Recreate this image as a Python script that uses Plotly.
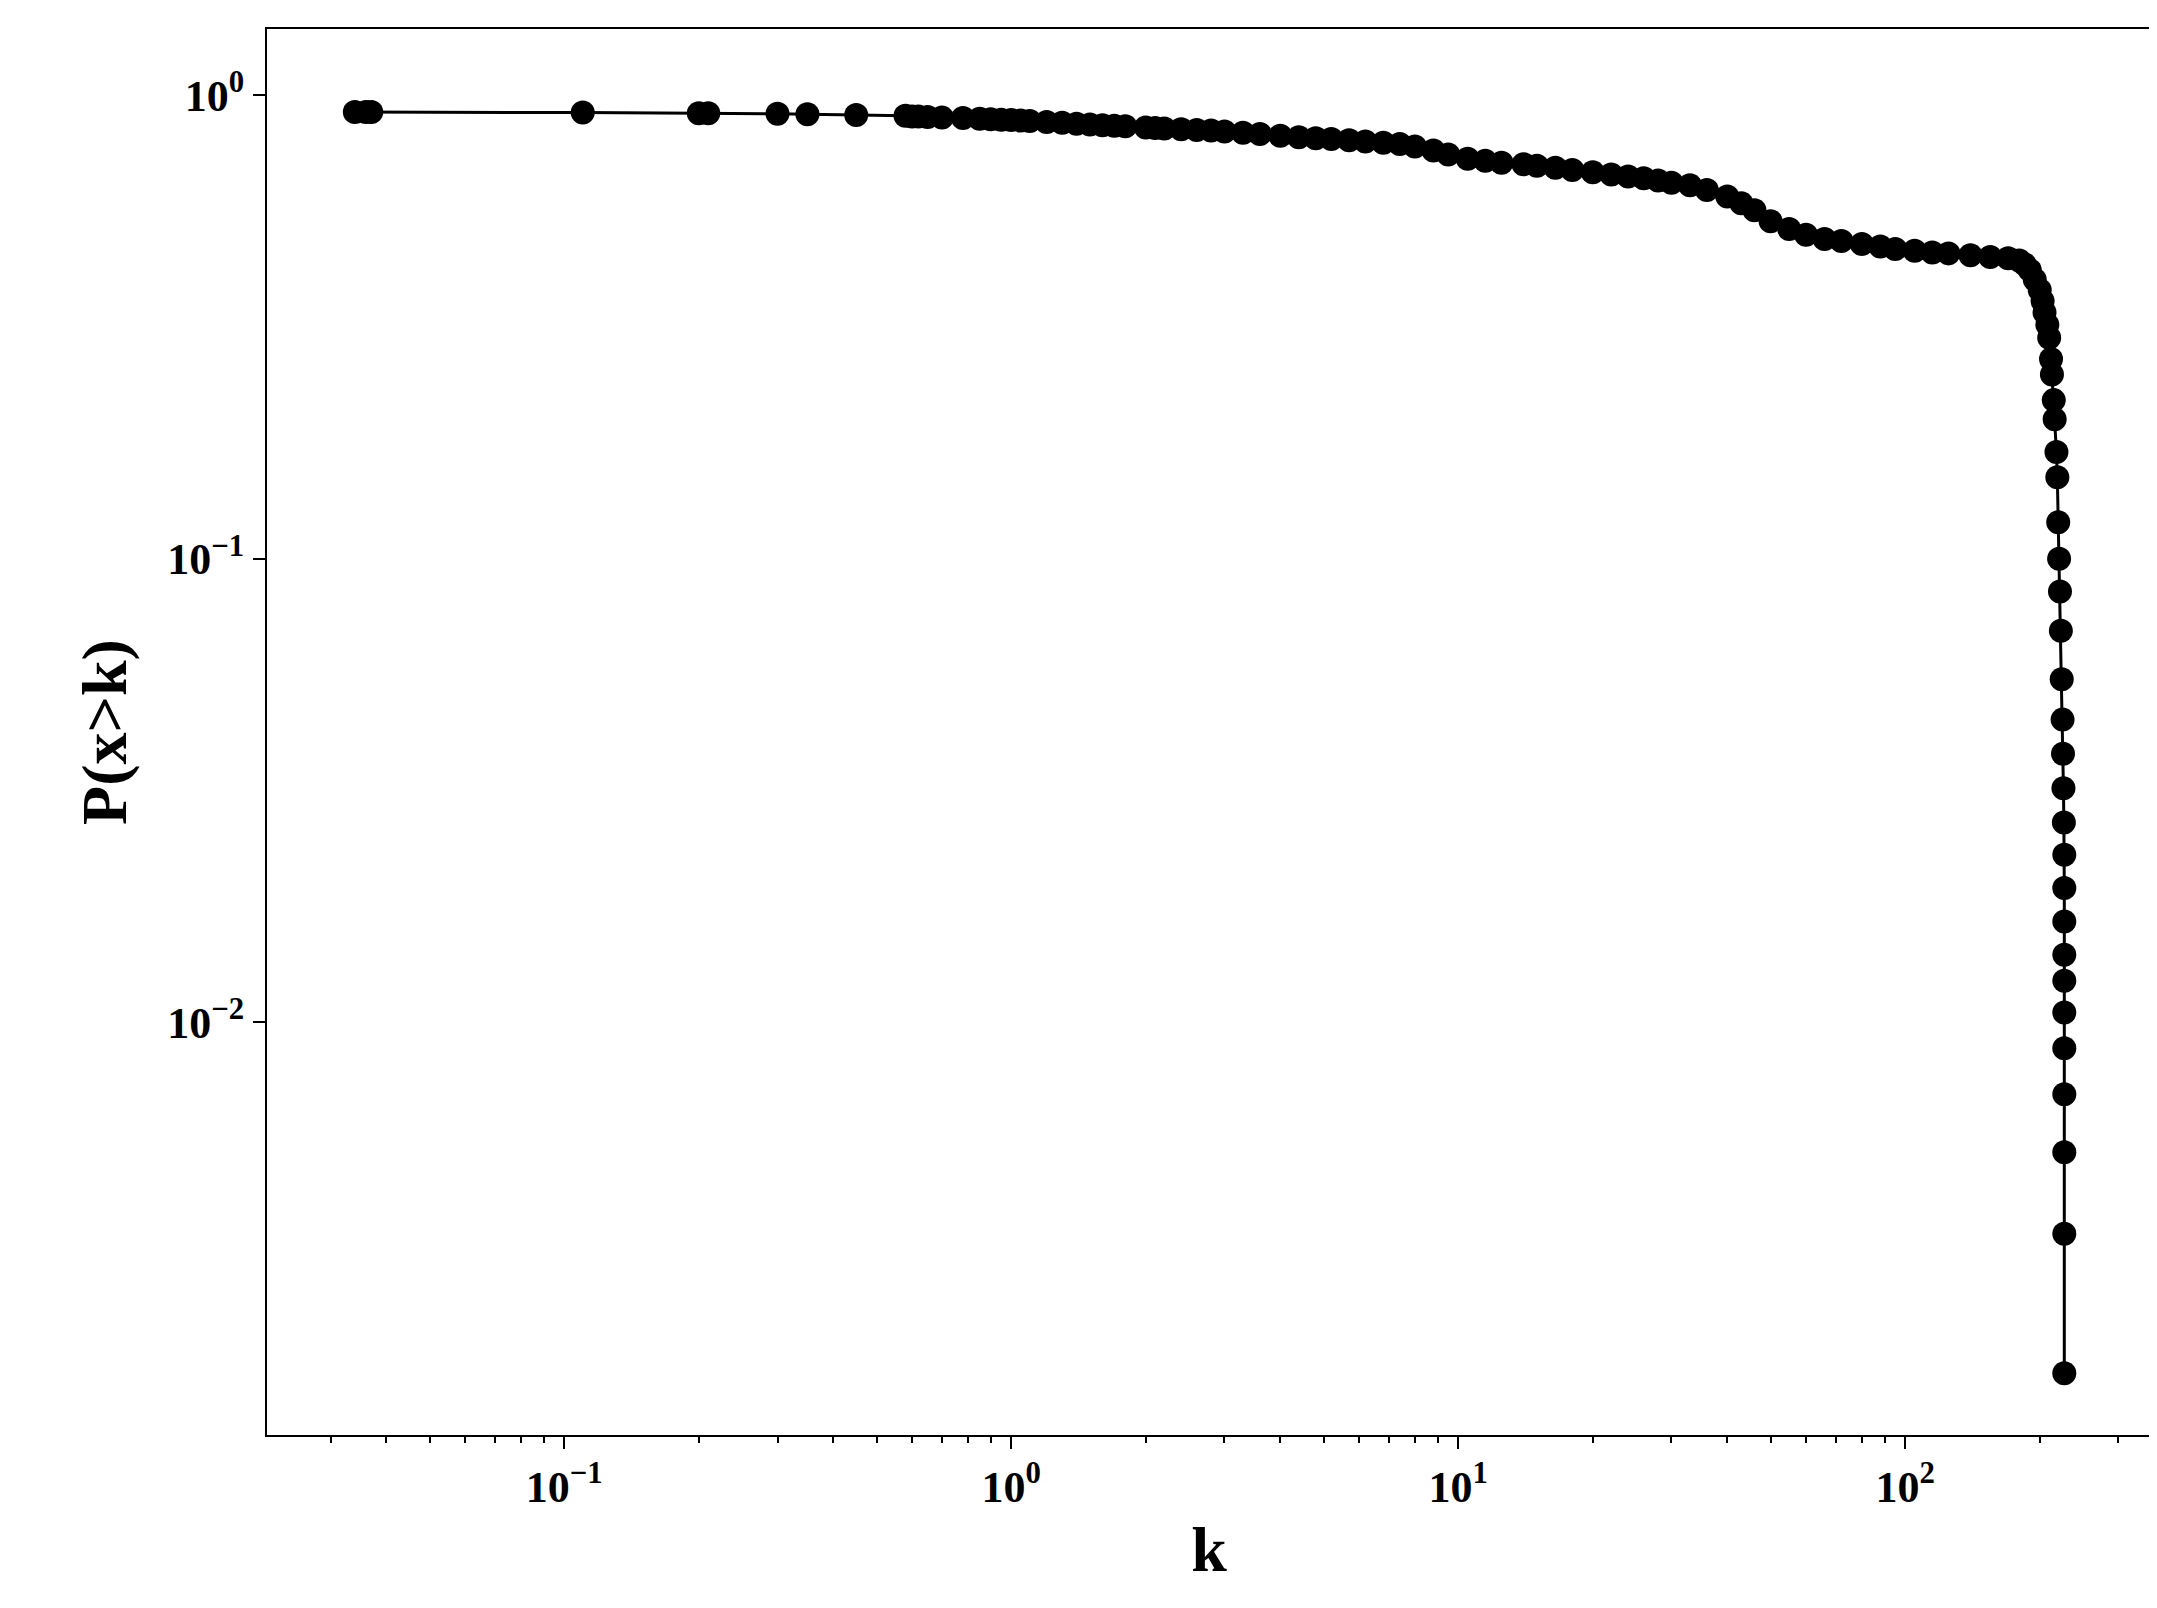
import plotly.graph_objects as go

k = [0.034, 0.036, 0.037, 0.11, 0.2, 0.21, 0.3, 0.35, 0.45, 0.58, 0.6, 0.62, 0.65, 0.7,
     0.78, 0.85, 0.9, 0.95, 1.0, 1.05, 1.1, 1.2, 1.3, 1.4, 1.5, 1.6, 1.7, 1.8, 2.0, 2.1,
     2.2, 2.4, 2.6, 2.8, 3.0, 3.3, 3.6, 4.0, 4.4, 4.8, 5.2, 5.7, 6.2, 6.8, 7.4, 8.0, 8.8,
     9.5, 10.5, 11.5, 12.5, 14, 15, 16.5, 18, 20, 22, 24, 26, 28, 30, 33, 36, 40, 43, 46,
     50, 55, 60, 66, 72, 80, 88, 95, 105, 115, 125, 140, 155, 170, 180, 185, 190, 195,
     200, 203, 205, 208, 210, 212, 213, 215, 216, 218, 219, 220, 221, 222, 223, 224, 225,
     225.5, 226, 226.5, 227, 227, 227, 227, 227, 227, 227, 227, 227, 227, 227, 227]
p = [0.92, 0.92, 0.92, 0.918, 0.915, 0.915, 0.912, 0.91, 0.907, 0.903, 0.9, 0.9, 0.898, 0.895,
     0.893, 0.89, 0.888, 0.886, 0.884, 0.882, 0.88, 0.876, 0.872, 0.868, 0.865, 0.862, 0.86, 0.857, 0.852, 0.85,
     0.848, 0.845, 0.842, 0.84, 0.835, 0.83, 0.825, 0.818, 0.812, 0.808, 0.805, 0.8, 0.795, 0.79, 0.785, 0.775, 0.76,
     0.745, 0.73, 0.722, 0.715, 0.71, 0.705, 0.698, 0.69, 0.682, 0.675, 0.668, 0.662, 0.655, 0.648, 0.64, 0.625, 0.605, 0.585, 0.565,
     0.535, 0.515, 0.5, 0.49, 0.485, 0.478, 0.472, 0.466, 0.462, 0.458, 0.456, 0.452, 0.448, 0.445, 0.44, 0.432, 0.42, 0.4,
     0.38, 0.36, 0.34, 0.32, 0.3, 0.27, 0.25, 0.22, 0.2, 0.17, 0.15, 0.12, 0.1, 0.085, 0.07, 0.055, 0.045,
     0.038, 0.032, 0.027, 0.023, 0.0195, 0.0165, 0.014, 0.0123, 0.0105, 0.0088, 0.007, 0.00525, 0.0035, 0.00175]

x_tickvals = [0.1, 1, 10, 100]
x_ticktext = ["10<sup>−1</sup>", "10<sup>0</sup>", "10<sup>1</sup>", "10<sup>2</sup>"]
y_tickvals = [0.01, 0.1, 1]
y_ticktext = ["10<sup>−2</sup>", "10<sup>−1</sup>", "10<sup>0</sup>"]

fig = go.Figure(go.Scatter(
    x=k, y=p, mode="lines+markers",
    line=dict(color="black", width=3),
    marker=dict(color="black", size=24),
))

fig.update_layout(
    width=2157, height=1608,
    margin=dict(l=259, r=14, t=21, b=181),
    paper_bgcolor="white", plot_bgcolor="white",
    showlegend=False,
    font=dict(family="Liberation Serif", color="black"),
)
tickfont = dict(family="Liberation Serif", size=44, color="black", weight="bold")
fig.update_xaxes(
    type="log", range=[-1.665, 2.55], tickvals=x_tickvals, ticktext=x_ticktext,
    showgrid=False, zeroline=False, showline=True, mirror=True, linecolor="black", linewidth=2,
    ticks="outside", ticklen=12, tickwidth=2, tickcolor="black",
    minor=dict(ticks="outside", ticklen=6, tickwidth=1.5, tickcolor="black", showgrid=False, dtick="D1"),
    tickfont=tickfont,
    title=dict(text="<b>k</b>", font=dict(family="Liberation Serif", size=64, color="black"), standoff=15),
)
fig.update_yaxes(
    type="log", range=[-2.89, 0.143], tickvals=y_tickvals, ticktext=y_ticktext,
    showgrid=False, zeroline=False, showline=True, mirror=True, linecolor="black", linewidth=2,
    ticks="outside", ticklen=12, tickwidth=2, tickcolor="black",
    tickfont=tickfont,
    title=dict(text="<b>P(x>k)</b>", font=dict(family="Liberation Serif", size=64, color="black"), standoff=20),
)
fig.write_html("out.html")
